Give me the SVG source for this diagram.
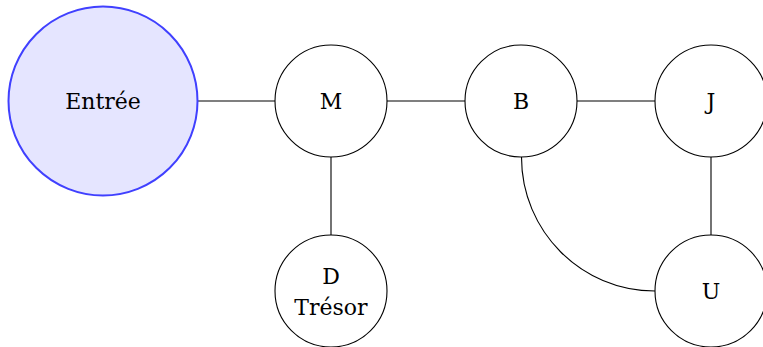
<svg xmlns="http://www.w3.org/2000/svg" width="763" height="347" viewBox="0 0 763 347">
<style>
.n{fill:#ffffff;stroke:#000;stroke-width:1.1}
.s{fill:#e5e5ff;stroke:#4040ff;stroke-width:2}
.t{font-family:"DejaVu Serif","Liberation Serif",serif;font-size:22px;fill:#000;text-anchor:middle}
.e{fill:none;stroke:#000;stroke-width:1.1}
</style>
<rect width="763" height="347" fill="#fff"/>
<g id="connectors">
<line class="e" x1="198" y1="101" x2="275" y2="101"/>
<line class="e" x1="387" y1="101" x2="465" y2="101"/>
<line class="e" x1="577" y1="101" x2="655" y2="101"/>
<line class="e" x1="331" y1="157" x2="331" y2="235"/>
<line class="e" x1="711" y1="157" x2="711" y2="235"/>
<path class="e" d="M521.5,157 C521.5,231 581,291 655,291"/>
</g>
<g id="entree"><circle class="s" cx="103" cy="101" r="94.5"/><text class="t" x="103" y="108.5">Entrée</text></g>
<g id="M"><circle class="n" cx="331" cy="101" r="56"/><text class="t" x="331" y="109">M</text></g>
<g id="B"><circle class="n" cx="521" cy="101" r="56"/><text class="t" x="521" y="109">B</text></g>
<g id="J"><circle class="n" cx="711" cy="101" r="56"/><text class="t" x="711" y="109">J</text></g>
<g id="D"><circle class="n" cx="331" cy="291" r="56"/><text class="t" x="331" y="283.5">D</text><text class="t" x="331" y="315">Trésor</text></g>
<g id="U"><circle class="n" cx="711" cy="291" r="56"/><text class="t" x="711" y="299">U</text></g>
</svg>
